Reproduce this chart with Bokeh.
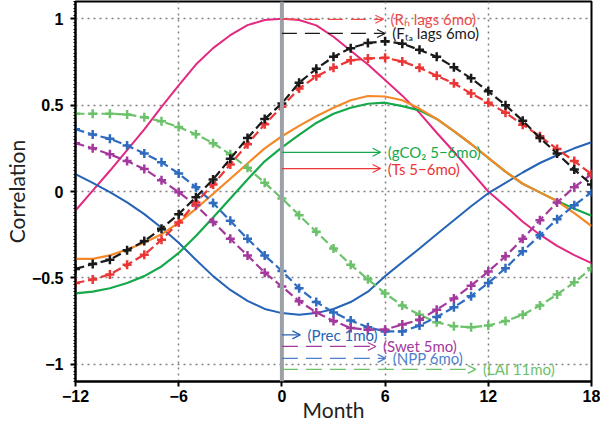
from bokeh.plotting import figure
from bokeh.models import (Range1d, FixedTicker, Span, Arrow, OpenHead, ColumnDataSource)
from bokeh.embed import file_html
from bokeh.resources import INLINE
from bokeh.core.properties import value

# ---------------- data ----------------
months = list(range(-12, 19))

rh_solid_pink = [-0.11, 0.005, 0.12, 0.24, 0.36, 0.49, 0.615, 0.735, 0.83, 0.905, 0.963, 0.993, 1.0,
                 0.993, 0.962, 0.896, 0.815, 0.735, 0.645, 0.555, 0.455, 0.34, 0.23, 0.115, 0.0,
                 -0.085, -0.175, -0.25, -0.315, -0.368, -0.415]
prec_solid_blue = [0.10, 0.05, -0.004, -0.063, -0.131, -0.21, -0.297, -0.395, -0.49, -0.57, -0.633, -0.68, -0.704,
                   -0.714, -0.704, -0.68, -0.64, -0.58, -0.49, -0.41, -0.33, -0.248, -0.166, -0.085, -0.01,
                   0.05, 0.11, 0.165, 0.21, 0.25, 0.285]
ts_solid_orange = [-0.39, -0.39, -0.37, -0.336, -0.297, -0.248, -0.18, -0.10, -0.014, 0.074, 0.162, 0.25, 0.32,
                   0.38, 0.436, 0.485, 0.528, 0.553, 0.55, 0.528, 0.48, 0.42, 0.35, 0.275, 0.195,
                   0.115, 0.045, -0.005, -0.055, -0.125, -0.2]
gco2_solid_green = [-0.59, -0.58, -0.56, -0.53, -0.49, -0.434, -0.356, -0.258, -0.15, -0.04, 0.07, 0.175, 0.255,
                    0.328, 0.397, 0.45, 0.485, 0.508, 0.514, 0.494, 0.47, 0.42, 0.35, 0.275, 0.195,
                    0.115, 0.045, -0.005, -0.055, -0.1, -0.14]
fta_dash_black = [-0.448, -0.42, -0.395, -0.34, -0.287, -0.215, -0.131, -0.033, 0.07, 0.19, 0.31, 0.42, 0.51,
                  0.63, 0.71, 0.78, 0.83, 0.86, 0.87, 0.856, 0.82, 0.78, 0.72, 0.655, 0.58,
                  0.50, 0.41, 0.31, 0.22, 0.127, 0.04]
rh_dash_red = [-0.53, -0.51, -0.48, -0.424, -0.366, -0.28, -0.18, -0.063, 0.04, 0.157, 0.274, 0.39, 0.49,
               0.596, 0.667, 0.716, 0.76, 0.77, 0.774, 0.753, 0.716, 0.67, 0.626, 0.567, 0.514,
               0.456, 0.387, 0.32, 0.246, 0.176, 0.10]
lai_dash_green = [0.45, 0.45, 0.45, 0.446, 0.43, 0.406, 0.373, 0.332, 0.28, 0.215, 0.137, 0.05, -0.04,
                  -0.137, -0.233, -0.33, -0.424, -0.508, -0.59, -0.66, -0.714, -0.757, -0.78, -0.786, -0.776,
                  -0.75, -0.714, -0.66, -0.596, -0.526, -0.444]
npp_dash_blue = [0.36, 0.33, 0.305, 0.266, 0.22, 0.17, 0.104, 0.025, -0.066, -0.17, -0.274, -0.37, -0.46,
                 -0.56, -0.64, -0.70, -0.747, -0.786, -0.81, -0.81, -0.776, -0.727, -0.67, -0.606, -0.53,
                 -0.444, -0.346, -0.254, -0.16, -0.08, -0.004]
swet_dash_purple = [0.28, 0.25, 0.215, 0.176, 0.13, 0.065, -0.004, -0.08, -0.176, -0.274, -0.37, -0.47, -0.55,
                    -0.635, -0.70, -0.75, -0.79, -0.80, -0.80, -0.77, -0.743, -0.684, -0.62, -0.545, -0.463,
                    -0.375, -0.274, -0.166, -0.063, 0.025, 0.10]

ann_labels = ["(R\u2095 lags 6mo)", "(F\u209c\u2090 lags 6mo)", "(gCO\u2082 5\u22126mo)", "(Ts 5\u22126mo)",
              "(Prec 1mo)", "(Swet 5mo)", "(NPP 6mo)", "(LAI 11mo)"]
ann_y = [0.997, 0.915, 0.227, 0.133, -0.83, -0.897, -0.966, -1.03]
ann_end = [5.9, 6.0, 5.74, 5.74, 1.07, 5.46, 6.03, 11.27]

x_ticks = [-12, -6, 0, 6, 12, 18]
x_tick_labels = ["\u221212", "\u22126", "0", "6", "12", "18"]
y_ticks = [-1, -0.5, 0, 0.5, 1]
y_tick_labels = ["\u22121", "\u22120.5", "0", "0.5", "1"]

# ---------------- styles ----------------
PINK = "#e3287f"
BLUE = "#2463b5"
ORANGE = "#f5892a"
GREEN = "#16a84a"
BLACK = "#1a1a1a"
RED = "#ec3535"
LGREEN = "#6cc26a"
BLUE2 = "#2f6cc0"
PURPLE = "#a3399c"

ann_colors = ["#ee4a4a", BLACK, GREEN, RED, BLUE, PURPLE, "#4f7fcc", LGREEN]
ann_dash = ["15 8", "15 8", "solid", "solid", "solid", "16 8", "16 8", "16 8"]

p = figure(width=600, height=424, x_range=Range1d(-12, 18), y_range=Range1d(-1.1, 1.1),
           output_backend="svg", toolbar_location=None,
           min_border_left=60, min_border_right=9, min_border_top=1, min_border_bottom=30)
p.outline_line_color = "black"
p.outline_line_width = 2
p.outline_line_alpha = 1

minor_y = [round(-1.1 + 0.02 * i, 2) for i in range(111)]

# axes
xa = p.xaxis[0]
xa.ticker = FixedTicker(ticks=x_ticks)
xa.major_label_overrides = {t: l for t, l in zip(x_ticks, x_tick_labels)}
ya = p.yaxis[0]
ya.ticker = FixedTicker(ticks=y_ticks, minor_ticks=minor_y)
ya.major_label_overrides = {t: l for t, l in zip(y_ticks, y_tick_labels)}
for ax in (xa, ya):
    ax.axis_line_width = 2
    ax.axis_line_color = "black"
    ax.major_tick_line_width = 2
    ax.major_tick_line_color = "black"
    ax.major_tick_out = 5
    ax.major_tick_in = 0
    ax.major_label_text_font = "Liberation Sans"
    ax.major_label_text_font_style = "bold"
    ax.major_label_text_font_size = "16px"
    ax.major_label_text_color = "black"
    ax.axis_label_text_font = "Lato"
    ax.axis_label_text_font_style = "normal"
    ax.axis_label_text_font_size = "21px"
    ax.axis_label_text_color = "#222222"
xa.minor_tick_line_color = None
ya.minor_tick_line_color = "black"
ya.minor_tick_out = 2
ya.minor_tick_in = 0
xa.axis_label = "Month"
ya.axis_label = "Correlation"
xa.major_label_standoff = 3
xa.axis_label_standoff = -8
ya.major_label_standoff = 7
ya.axis_label_standoff = 0

p.xgrid.ticker = FixedTicker(ticks=x_ticks)
p.ygrid.ticker = FixedTicker(ticks=y_ticks)
for g in (p.xgrid, p.ygrid):
    g.grid_line_color = "#808080"
    g.grid_line_dash = "2 4"
    g.grid_line_width = 1.5

# curves
src = ColumnDataSource(dict(m=months, pink=rh_solid_pink, blue=prec_solid_blue, orange=ts_solid_orange,
                            green=gco2_solid_green, black=fta_dash_black, red=rh_dash_red,
                            lgreen=lai_dash_green, blue2=npp_dash_blue, purple=swet_dash_purple))

p.line("m", "pink", source=src, color=PINK, line_width=2)
p.line("m", "blue", source=src, color=BLUE, line_width=2)
p.line("m", "green", source=src, color=GREEN, line_width=2.2)
p.line("m", "orange", source=src, color=ORANGE, line_width=2.2)

for col, c in (("lgreen", LGREEN), ("blue2", BLUE2), ("purple", PURPLE), ("red", RED), ("black", BLACK)):
    p.line("m", col, source=src, color=c, line_width=2.2, line_dash="9 4")
    p.scatter("m", col, source=src, marker="cross", size=9, line_color=c, line_width=2.5)

# vertical gray line at 0
p.add_layout(Span(location=0, dimension="height", line_color="#9ca1a8", line_width=4))

# arrows + labels
for lab, yv, xe, c, d in zip(ann_labels, ann_y, ann_end, ann_colors, ann_dash):
    p.add_layout(Arrow(x_start=0, y_start=yv, x_end=xe, y_end=yv, line_color=c, line_width=1.2,
                       line_dash=d, end=OpenHead(size=8, line_color=c, line_width=1.2)))

lab_src = ColumnDataSource(dict(x=[e + 0.42 for e in ann_end], y=ann_y, t=ann_labels, c=ann_colors))
p.text("x", "y", text="t", source=lab_src, text_color="c", text_font=value("Lato"),
       text_font_size="15px", text_baseline="middle", text_align="left")

open("out.html", "w").write(file_html(p, INLINE))
